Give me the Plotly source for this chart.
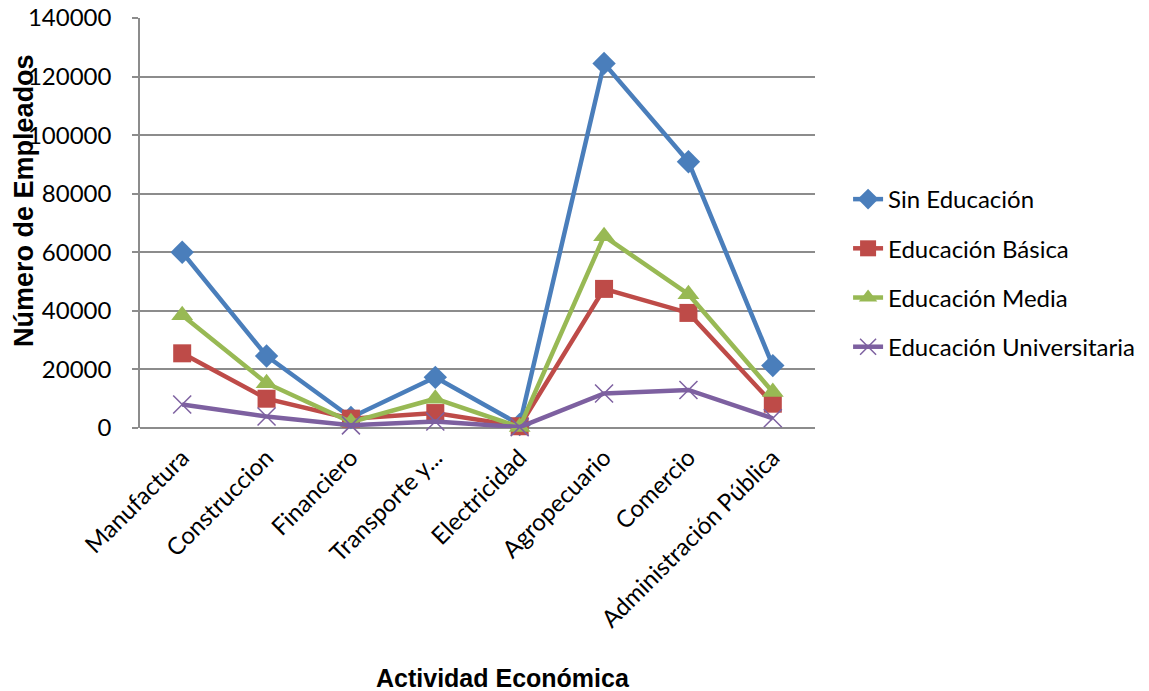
import plotly.graph_objects as go

# Empleados por actividad económica y nivel educativo
actividades = ["Manufactura", "Construccion", "Financiero", "Transporte y...",
               "Electricidad", "Agropecuario", "Comercio", "Administración Pública"]

sin_educacion = [60000, 24600, 3600, 17300, 1200, 124500, 90900, 21300]
educacion_basica = [25500, 10000, 3200, 5100, 600, 47500, 39300, 8300]
educacion_media = [38500, 15300, 2000, 10000, 300, 65500, 45700, 12300]
educacion_universitaria = [8000, 3900, 900, 2200, 300, 11800, 13000, 3300]

series = [
    ("Sin Educación", sin_educacion, "#4A7EBB", "diamond", 18),
    ("Educación Básica", educacion_basica, "#BE4B48", "square", 18),
    ("Educación Media", educacion_media, "#98B954", "triangle-up", 19),
    ("Educación Universitaria", educacion_universitaria, "#7D60A0", "x-thin", 18),
]

fig = go.Figure()
for i, (name, vals, color, symbol, size) in enumerate(series):
    marker = dict(symbol=symbol, size=size, color=color)
    if symbol == "x-thin":
        marker["line"] = dict(color=color, width=1.5)
    fig.add_trace(go.Scatter(
        x=actividades, y=vals, name=name, mode="lines+markers",
        line=dict(color=color, width=4.5), marker=marker,
        legendgroup=f"g{i}", cliponaxis=False,
    ))

grid = "#8C8C8C"
fig.update_layout(
    width=1149, height=691,
    margin=dict(l=140, r=334, t=18, b=263, autoexpand=False),
    paper_bgcolor="white", plot_bgcolor="white",
    font=dict(family="Lato", size=22, color="black"),
    showlegend=True,
    legend=dict(x=1.049, y=0.378, xanchor="left", yanchor="middle",
                tracegroupgap=15, font=dict(family="Lato", size=24),
                bgcolor="rgba(0,0,0,0)"),
    xaxis=dict(type="category", range=[-0.5, 7.5], tickangle=-45,
               showgrid=False, showline=False, zeroline=False,
               tickfont=dict(family="Lato", size=24), ticks="",
               ticklabelstandoff=10, automargin=False),
    yaxis=dict(range=[0, 140000], dtick=20000, tickformat="d",
               showgrid=True, gridcolor=grid, gridwidth=1.5,
               showline=True, linecolor=grid, linewidth=1.5,
               ticks="outside", ticklen=6, tickcolor=grid, tickwidth=1.5,
               zeroline=True, zerolinecolor=grid, zerolinewidth=1.5,
               tickfont=dict(family="Lato", size=24), ticklabelstandoff=16,
               automargin=False),
    annotations=[
        dict(text="<b>Número de Empleados</b>", xref="paper", yref="paper",
             x=-0.172, y=0.556, xanchor="center", yanchor="middle",
             textangle=-90, showarrow=False,
             font=dict(family="Liberation Sans", size=27, color="black")),
        dict(text="<b>Actividad Económica</b>", x=0.538, xref="paper",
             y=-0.61, yref="paper", xanchor="center", yanchor="middle",
             showarrow=False,
             font=dict(family="Liberation Sans", size=25, color="black")),
    ],
)
fig.update_xaxes(tickson="labels")

fig.write_html("out.html")
